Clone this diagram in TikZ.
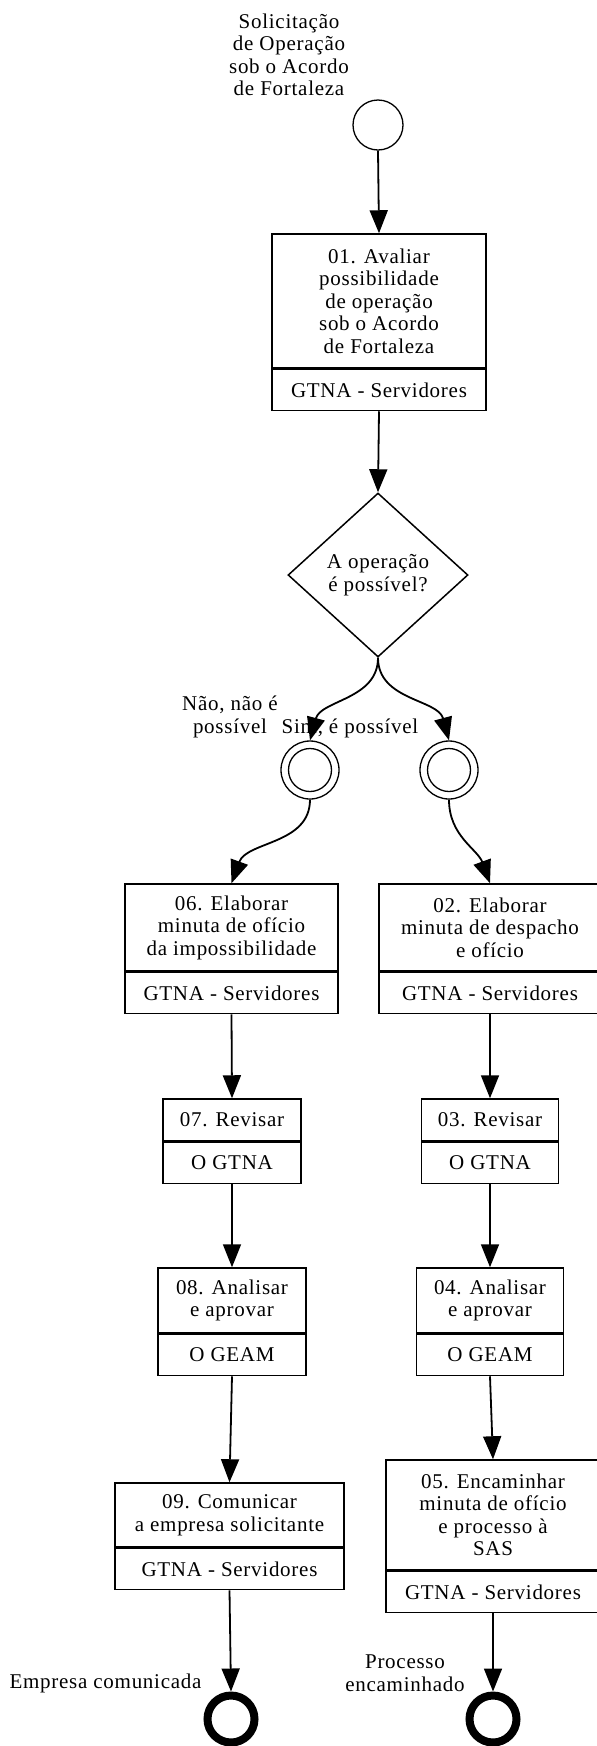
\documentclass[tikz,border=0pt]{standalone}
\usepackage{fontspec}
\setmainfont{Liberation Serif}[LetterSpace=3.5]
\usetikzlibrary{shapes.geometric,arrows.meta}

\tikzset{
  every node/.style={font=\fontsize{21}{22.5}\selectfont},
  task/.style={draw,line width=1.5pt,align=center,inner sep=0pt},
  role/.style={draw,line width=1.5pt,align=center,inner sep=0pt,minimum height=41pt,anchor=north},
  begin/.style={circle,draw,line width=1.3pt,minimum size=50pt,inner sep=0pt},
  catch/.style={circle,draw,line width=1.3pt,minimum size=58pt,inner sep=0pt},
  ring/.style={line width=1.3pt},
  stop/.style={circle,draw,line width=8pt,minimum size=47pt,inner sep=0pt},
  flow/.style={line width=1.8pt,-{Triangle[length=23pt,width=18pt]}},
}

\begin{document}
\begin{tikzpicture}[x=1pt,y=-1pt]
    \useasboundingbox (0,0) rectangle (597,1746);

    \path (289,55) node [align=center] (startlbl) {Solicitação\\de Operação\\sob o Acordo\\de Fortaleza};
    \path (378,125) node [begin] (start) {};

    \path (379,301) node [task,minimum width=214pt,minimum height=134pt] (t01) {01. Avaliar\\possibilidade\\de operação\\sob o Acordo\\de Fortaleza};
    \path (t01.south) node [role,minimum width=214pt] (t01r) {GTNA - Servidores};

    \path (378,575) node [diamond,draw,line width=1.5pt,minimum width=180pt,minimum height=164pt,inner sep=0pt,align=center] (q1) {A operação\\é possível?};

    \path (310,770) node [catch] (g1) {};
    \draw [ring] (g1.center) circle [radius=21.5pt];
    \path (449,770) node [catch] (g2) {};
    \draw [ring] (g2.center) circle [radius=21.5pt];
    \path (230,717) node [align=center] (lno) {Não, não é\\possível};
    \path (350,728) node (lsim) {Sim, é possível};

    % ramo da impossibilidade
    \path (231.5,927.5) node [task,minimum width=213pt,minimum height=87pt] (t06) {06. Elaborar\\minuta de ofício\\da impossibilidade};
    \path (t06.south) node [role,minimum width=213pt] (t06r) {GTNA - Servidores};
    \path (232,1120) node [task,minimum width=138pt,minimum height=42pt] (t07) {07. Revisar};
    \path (t07.south) node [role,minimum width=138pt] (t07r) {O GTNA};
    \path (232,1300.5) node [task,minimum width=148pt,minimum height=65pt] (t08) {08. Analisar\\e aprovar};
    \path (t08.south) node [role,minimum width=148pt] (t08r) {O GEAM};
    \path (229.5,1515) node [task,minimum width=229pt,minimum height=64pt] (t09) {09. Comunicar\\a empresa solicitante};
    \path (t09.south) node [role,minimum width=229pt] (t09r) {GTNA - Servidores};
    \path (231,1719) node [stop] (e1) {};
    \path (105.5,1683) node (le1) {Empresa comunicada};

    % ramo da possibilidade
    \path (490,927.5) node [task,minimum width=222pt,minimum height=87pt] (t02) {02. Elaborar\\minuta de despacho\\e ofício};
    \path (t02.south) node [role,minimum width=222pt] (t02r) {GTNA - Servidores};
    \path (490,1120) node [task,minimum width=137pt,minimum height=42pt] (t03) {03. Revisar};
    \path (t03.south) node [role,minimum width=137pt] (t03r) {O GTNA};
    \path (490,1300.5) node [task,minimum width=147pt,minimum height=65pt] (t04) {04. Analisar\\e aprovar};
    \path (t04.south) node [role,minimum width=147pt] (t04r) {O GEAM};
    \path (493,1515) node [task,minimum width=214pt,minimum height=110pt] (t05) {05. Encaminhar\\minuta de ofício\\e processo à\\SAS};
    \path (t05.south) node [role,minimum width=214pt] (t05r) {GTNA - Servidores};
    \path (493,1719) node [stop] (e2) {};
    \path (405,1673) node [align=center] (le2) {Processo\\encaminhado};

    \draw [flow] (start.south) -- (t01.north);
    \draw [flow] (t01r.south) -- (q1.north);
    \draw [flow] (q1.south) to [out=-90,in=75] (g1.north);
    \draw [flow] (q1.south) to [out=-90,in=105] (g2.north);
    \draw [flow] (g1.south) to [out=-90,in=70] (t06.north);
    \draw [flow] (g2.south) to [out=-90,in=110] (t02.north);
    \draw [flow] (t06r.south) -- (t07.north);
    \draw [flow] (t07r.south) -- (t08.north);
    \draw [flow] (t08r.south) -- (t09.north);
    \draw [flow] (t09r.south) -- (e1.north);
    \draw [flow] (t02r.south) -- (t03.north);
    \draw [flow] (t03r.south) -- (t04.north);
    \draw [flow] (t04r.south) -- (t05.north);
    \draw [flow] (t05r.south) -- (e2.north);
\end{tikzpicture}
\end{document}
